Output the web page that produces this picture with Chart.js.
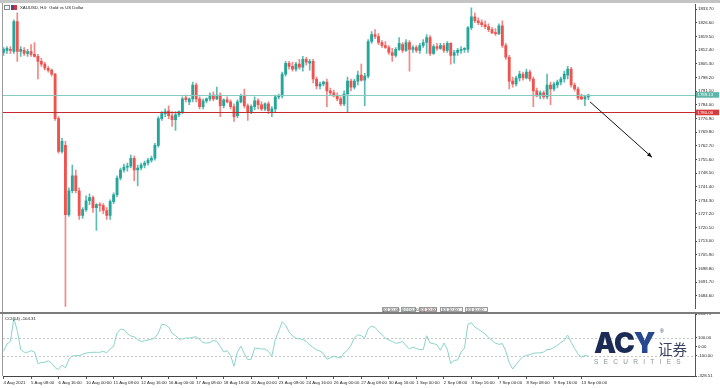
<!DOCTYPE html>
<html><head><meta charset="utf-8">
<script src="https://cdn.jsdelivr.net/npm/chart.js@4.4.0/dist/chart.umd.min.js"></script>
<style>
html,body{margin:0;padding:0;background:#fff;width:720px;height:388px;overflow:hidden;}
#wrap{position:relative;width:720px;height:388px;background:#fff;}
canvas{position:absolute;left:0;}
#main{top:0;}
#cci{top:306px;}
.bar{position:absolute;}
.txt{position:absolute;font-family:'Liberation Sans',Arial,sans-serif;font-size:8.6px;line-height:10px;transform:scale(0.5);transform-origin:0 0;white-space:nowrap;color:#222;}
.btn{position:absolute;top:306.5px;height:5.5px;border:1px solid #9c9c9c;box-sizing:border-box;background:#efefef;}
</style></head>
<body><div id="wrap">
<canvas id="main" width="720" height="312"></canvas>
<canvas id="cci" width="720" height="82"></canvas>
<div class="bar" style="left:0;top:0;width:720px;height:3px;background:#c4c4c4"></div>
<div class="bar" style="left:2px;top:3px;width:1px;height:373px;background:#9a9a9a"></div>
<div class="bar" style="left:0;top:312px;width:720px;height:2px;background:#7c7c7c"></div>
<div class="bar" style="left:4px;top:4.5px;width:6px;height:5px;border:1px solid #8a8a8a;box-sizing:border-box;background:#f4f4f4"></div>
<div class="bar" style="left:11px;top:4.5px;width:6px;height:5px;background:linear-gradient(90deg,#3a4fa0 0 45%,#d33 45% 100%)"></div>
<div class="txt" style="left:20px;top:5px">XAUUSD, H4:&nbsp; Gold vs US Dollar</div>
<div class="txt" style="left:4.5px;top:315.5px">CCI(14) -104.31</div>
<div class="btn" style="left:382px;width:17px"></div>
<div class="btn" style="left:401px;width:15px;background:#e4f1ee"></div>
<div class="btn" style="left:419px;width:18px;background:#f6e3e3"></div>
<div class="btn" style="left:440px;width:23px"></div>
<div class="btn" style="left:465px;width:23px"></div>
<div class="txt" style="left:383px;top:307px;color:#555">[0] 10.00</div>
<div class="txt" style="left:402px;top:307px;color:#555">0 [·] 0.00</div>
<div class="txt" style="left:420px;top:307px;color:#555">[0] 10.00</div>
<div class="txt" style="left:442px;top:307px;color:#555">[0] 10.00</div>
<div class="txt" style="left:467px;top:307px;color:#555">[0] 10.00</div>
<div style="position:absolute;left:594px;top:333px;height:20px;line-height:20px;font-family:Inter,'DejaVu Sans',sans-serif;font-weight:900;font-size:28px;color:#1c2a56;letter-spacing:-1px;white-space:nowrap">AC<span style="color:#27478f">Y</span></div>
<div style="position:absolute;left:660px;top:329px;font-family:'Liberation Sans',Arial,sans-serif;font-size:5px;line-height:5px;color:#1c2a56">®</div>
<div style="position:absolute;left:658px;top:341px;height:15px;line-height:15px;font-family:'Noto Sans CJK SC',sans-serif;font-size:14.5px;color:#3b4262;white-space:nowrap">证券</div>
<div style="position:absolute;left:594px;top:358px;height:7px;line-height:7px;font-family:'Liberation Sans',Arial,sans-serif;font-size:6.5px;letter-spacing:5.3px;color:#8c929c;white-space:nowrap">SECURITIES</div>
</div>
<script>
const barOpen = [1811.2,1812.3,1812.8,1811.7,1827.2,1811.7,1812.3,1810.7,1811.7,1810.2,
1809.2,1806.6,1805.1,1803.0,1802.0,1799.9,1776.8,1759.8,1762.9,1726.9,
1739.3,1747.0,1739.3,1726.4,1729.5,1734.1,1735.7,1730.5,1732.1,1731.6,
1729.0,1726.4,1733.6,1737.2,1745.9,1750.1,1751.6,1752.1,1756.2,1750.1,
1751.1,1752.6,1753.7,1755.2,1756.2,1762.9,1776.8,1779.4,1780.9,1778.3,
1776.3,1778.8,1780.4,1787.6,1785.5,1787.1,1794.3,1787.1,1783.0,1786.0,
1787.1,1789.1,1787.1,1789.1,1783.5,1786.6,1785.5,1783.0,1778.3,1785.5,
1788.6,1783.5,1780.4,1783.0,1786.0,1784.0,1781.9,1784.5,1780.4,1781.9,
1788.1,1788.6,1799.9,1805.6,1804.0,1802.5,1805.1,1803.5,1807.6,1805.6,
1806.6,1797.4,1793.8,1794.8,1795.8,1791.2,1790.2,1788.6,1787.1,1784.5,
1789.6,1796.3,1793.2,1796.3,1799.4,1796.8,1798.9,1816.9,1820.5,1819.5,
1816.4,1814.8,1813.8,1811.2,1809.7,1812.8,1815.3,1812.3,1816.4,1812.8,
1813.8,1812.3,1814.8,1816.4,1818.9,1810.7,1814.3,1813.3,1814.8,1812.3,
1815.9,1809.7,1811.2,1812.3,1812.8,1812.8,1824.1,1829.7,1827.7,1826.7,
1825.6,1824.6,1823.1,1821.5,1821.0,1825.1,1814.8,1808.7,1796.3,1794.8,
1797.9,1799.9,1797.9,1801.0,1797.4,1791.2,1788.6,1790.2,1788.1,1794.3,
1792.2,1794.3,1795.8,1797.4,1799.4,1802.5,1794.3,1792.2,1788.1,1787.1,
1788.1];
const barHigh = [1813.8,1814.3,1814.3,1828.2,1831.8,1814.3,1813.8,1812.8,1815.3,1816.4,
1810.2,1808.2,1806.1,1804.0,1802.5,1800.4,1777.8,1766.5,1765.0,1740.8,
1752.6,1750.1,1740.8,1730.5,1736.7,1737.7,1736.7,1732.6,1733.1,1732.6,
1730.5,1734.6,1738.2,1747.0,1751.1,1753.1,1753.7,1757.8,1757.3,1752.6,
1753.7,1754.7,1756.2,1757.3,1763.9,1777.8,1780.4,1781.9,1783.5,1780.4,
1780.4,1780.9,1788.1,1789.1,1787.6,1795.8,1795.3,1788.1,1787.1,1787.6,
1790.2,1790.7,1793.2,1790.2,1787.1,1788.1,1786.6,1784.5,1786.6,1789.6,
1792.2,1784.5,1784.0,1788.1,1787.1,1785.5,1785.0,1785.5,1783.0,1789.1,
1789.6,1801.0,1806.6,1806.6,1806.1,1806.1,1807.6,1809.2,1808.7,1807.6,
1807.6,1798.4,1795.8,1796.3,1797.4,1792.7,1791.7,1790.2,1788.1,1791.2,
1798.4,1797.4,1797.4,1801.5,1805.1,1800.4,1817.9,1822.0,1823.1,1821.0,
1817.4,1816.9,1814.8,1813.3,1813.8,1818.9,1816.4,1817.9,1817.4,1814.8,
1814.8,1815.9,1817.9,1820.5,1820.0,1815.3,1815.9,1815.9,1815.9,1816.9,
1816.4,1812.3,1813.3,1814.3,1813.8,1824.6,1834.4,1831.8,1829.2,1828.2,
1827.7,1826.1,1824.1,1823.6,1826.1,1827.7,1815.9,1809.7,1798.4,1798.9,
1801.5,1801.0,1802.5,1802.0,1798.4,1792.7,1791.2,1791.2,1799.9,1795.8,
1795.8,1796.8,1798.4,1801.5,1804.0,1803.5,1795.3,1793.2,1789.6,1789.1,
1789.6];
const barLow = [1809.7,1810.7,1810.7,1810.7,1806.6,1809.2,1809.7,1809.2,1809.2,1808.7,
1797.4,1804.0,1802.0,1801.0,1798.9,1775.8,1758.8,1758.8,1679.1,1725.9,
1738.2,1738.2,1724.4,1724.9,1728.5,1732.1,1728.0,1718.7,1728.5,1727.4,
1724.4,1724.4,1732.6,1736.2,1744.9,1749.0,1749.5,1751.1,1744.4,1741.8,
1750.1,1751.1,1752.6,1754.2,1755.2,1761.9,1775.8,1777.8,1776.8,1772.7,
1770.6,1777.8,1779.4,1785.5,1784.0,1785.5,1785.5,1781.9,1781.9,1785.0,
1786.0,1786.0,1786.6,1777.8,1782.4,1785.0,1781.9,1775.3,1777.3,1785.0,
1782.4,1775.8,1779.4,1781.4,1781.9,1780.9,1780.9,1779.4,1777.8,1780.4,
1787.1,1787.6,1798.9,1802.5,1801.5,1801.5,1802.5,1801.5,1804.6,1802.0,
1795.3,1792.2,1792.2,1793.8,1783.0,1789.1,1788.1,1786.0,1783.5,1783.5,
1780.4,1791.2,1792.2,1794.3,1796.3,1783.5,1797.9,1815.9,1818.4,1815.3,
1813.8,1813.3,1810.2,1806.6,1808.7,1812.3,1811.2,1811.7,1801.5,1811.2,
1811.2,1810.7,1813.8,1810.7,1809.7,1810.2,1812.3,1812.8,1811.2,1811.2,
1805.1,1805.6,1809.7,1810.7,1811.2,1811.2,1823.1,1826.7,1825.6,1824.6,
1823.6,1822.0,1821.0,1820.0,1820.5,1813.8,1807.6,1792.2,1793.2,1793.8,
1796.3,1796.8,1797.4,1796.3,1783.0,1788.1,1787.1,1787.1,1787.1,1784.0,
1791.2,1792.7,1794.3,1795.8,1797.4,1793.2,1791.2,1786.6,1786.6,1783.5,
1786.6];
const barClose = [1812.8,1813.3,1812.3,1827.2,1811.7,1812.8,1810.7,1811.7,1810.2,1809.2,
1806.6,1805.1,1803.0,1802.0,1799.9,1776.8,1759.8,1765.0,1726.9,1739.3,
1747.0,1739.3,1726.4,1729.5,1734.1,1735.7,1730.5,1732.1,1731.6,1729.0,
1726.4,1733.6,1737.2,1745.9,1750.1,1751.6,1752.1,1756.2,1750.1,1751.1,
1752.6,1753.7,1755.2,1756.2,1762.9,1776.8,1779.4,1780.4,1778.3,1776.3,
1778.8,1780.4,1787.1,1786.6,1787.1,1794.3,1787.1,1783.0,1786.0,1787.1,
1789.1,1787.1,1789.1,1783.5,1786.6,1785.5,1783.0,1777.8,1785.5,1788.6,
1783.5,1780.4,1783.0,1786.0,1784.0,1781.9,1784.5,1780.9,1781.9,1788.1,
1788.6,1799.9,1805.6,1804.0,1802.5,1805.1,1803.5,1807.6,1806.1,1806.6,
1797.4,1793.8,1794.8,1795.8,1791.2,1790.2,1788.6,1787.1,1784.5,1789.6,
1796.3,1793.2,1796.3,1799.4,1796.8,1798.9,1816.9,1820.5,1819.5,1816.4,
1814.8,1813.8,1811.2,1809.7,1812.8,1815.9,1812.3,1816.4,1812.8,1813.8,
1812.3,1814.8,1816.4,1818.9,1810.7,1814.3,1813.3,1814.8,1812.3,1815.9,
1809.7,1811.2,1812.3,1812.8,1813.3,1824.1,1829.7,1827.7,1826.7,1825.6,
1824.6,1823.1,1821.5,1821.0,1825.1,1814.8,1808.7,1796.3,1794.8,1797.9,
1799.9,1797.9,1801.0,1797.4,1791.2,1788.6,1790.2,1788.1,1794.3,1792.2,
1794.8,1795.8,1797.4,1799.9,1802.5,1794.3,1792.2,1787.6,1787.1,1788.1,
1789.1];
const cciValues = [-52,30,59,318,180,-33,-63,-63,-45,-60,
-189,-178,-174,-160,-185,-235,-255,-205,-237,-140,
-105,-100,-100,-85,-72,-66,-63,-63,-63,-52,
-68,-26,3,155,196,190,145,120,110,80,
59,65,75,82,100,152,250,245,220,150,
125,85,85,97,95,105,110,80,45,41,
45,70,60,3,-60,-45,-100,-219,-60,5,
-80,-145,-140,-15,-20,-26,-26,-52,-107,80,
175,280,240,165,120,95,88,80,60,20,
-10,-35,-50,-78,-140,-125,-107,-118,-126,-70,
-40,15,100,133,122,97,200,230,215,170,
135,97,75,58,38,45,59,10,-26,-5,
-20,-33,-33,122,41,35,20,-41,41,-30,
-190,-155,-148,-60,-15,250,268,220,195,170,
140,105,70,40,25,35,-50,-180,-250,-200,
-150,-110,-100,-90,-75,-70,-70,-60,-33,-30,
-10,15,45,70,130,50,-20,-85,-115,-100,
-104.31];
const priceTicks = [1684.60,1691.70,1698.80,1705.90,1713.00,1720.10,1727.20,1734.30,1741.40,1748.50,1755.60,1762.70,1769.80,1776.90,1784.00,1791.10,1798.20,1805.30,1812.40,1819.50,1826.60,1833.70];
const cciTicks = [365.75,100,0,-100,-328.51];
const cciLevels = [100,-100];
const timeLabels = ["4 Aug 2021","5 Aug 08:00","6 Aug 16:00","10 Aug 00:00","11 Aug 08:00","12 Aug 16:00","16 Aug 00:00","17 Aug 08:00","18 Aug 16:00","20 Aug 00:00","23 Aug 08:00","24 Aug 16:00","26 Aug 00:00","27 Aug 08:00","30 Aug 16:00","1 Sep 00:00","2 Sep 08:00","3 Sep 16:00","7 Sep 00:00","8 Sep 08:00","9 Sep 16:00","13 Sep 00:00"];
const timeLabelBars = [0,8,16,24,32,40,48,56,64,72,80,88,96,104,112,120,128,136,144,152,160,168];
const levelValues = [1789.13,1780.00];
const arrowFrom = [170.5,1785.5];
const arrowTo = [188.5,1756.7];

const UP='#26a69a', DN='#ef5350', UPW='rgba(38,166,154,0.75)', DNW='rgba(239,83,80,0.7)';
const FONT="'Liberation Sans', Arial, sans-serif";
Chart.defaults.font.family=FONT;
Chart.defaults.font.size=4.3;
Chart.defaults.color='#222';
const X_MIN=-0.15, X_MAX=201.0;
const idx = barOpen.map((_,i)=>i);
const bull = idx.map(i=>barClose[i]>=barOpen[i]);

const levelStyle=[{line:'#86cbbf',box:'#5cb5a7',w:1},{line:'#c42a2e',box:'#d8393b',w:1.2}];
const levelsPlugin={id:'levels',
  afterDatasetsDraw(chart){
    const {ctx,chartArea:a,scales:{x,y}}=chart;
    levelValues.forEach((v,k)=>{
      const py=Math.round(y.getPixelForValue(v))+0.5;
      ctx.save();ctx.strokeStyle=levelStyle[k].line;ctx.lineWidth=levelStyle[k].w;
      ctx.beginPath();ctx.moveTo(a.left,py);ctx.lineTo(a.right,py);ctx.stroke();ctx.restore();
    });
    const x1=x.getPixelForValue(arrowFrom[0]),y1=y.getPixelForValue(arrowFrom[1]);
    const x2=x.getPixelForValue(arrowTo[0]),y2=y.getPixelForValue(arrowTo[1]);
    ctx.save();ctx.strokeStyle='#111';ctx.fillStyle='#111';ctx.lineWidth=1;
    ctx.beginPath();ctx.moveTo(x1,y1);ctx.lineTo(x2,y2);ctx.stroke();
    const ang=Math.atan2(y2-y1,x2-x1),L=5,W=2;
    ctx.beginPath();ctx.moveTo(x2,y2);
    ctx.lineTo(x2-L*Math.cos(ang)+W*Math.sin(ang),y2-L*Math.sin(ang)-W*Math.cos(ang));
    ctx.lineTo(x2-L*Math.cos(ang)-W*Math.sin(ang),y2-L*Math.sin(ang)+W*Math.cos(ang));
    ctx.closePath();ctx.fill();ctx.restore();
  },
  afterDraw(chart){
    const {ctx,chartArea:a,scales:{y}}=chart;
    levelValues.forEach((v,k)=>{
      const py=y.getPixelForValue(v);
      ctx.save();ctx.fillStyle=levelStyle[k].box;
      ctx.fillRect(a.right+1,py-2.8,23,5.6);
      ctx.fillStyle='#fff';ctx.font='4.3px '+FONT;ctx.textBaseline='middle';ctx.textAlign='left';
      ctx.fillText(v.toFixed(2),a.right+2.5,py+0.2);ctx.restore();
    });
  }};

new Chart(document.getElementById('main'),{
  type:'bar',
  data:{datasets:[
    {label:'wick',data:idx.map(i=>({x:i,y:[barLow[i],barHigh[i]]})),backgroundColor:bull.map(b=>b?UPW:DNW),barThickness:1,grouped:false,order:2,borderWidth:0},
    {label:'body',data:idx.map(i=>({x:i,y:[barOpen[i],barClose[i]]})),backgroundColor:bull.map(b=>b?UP:DN),barThickness:2.2,minBarLength:1,grouped:false,order:1,borderWidth:0}
  ]},
  options:{responsive:false,animation:false,devicePixelRatio:1,
    layout:{padding:{left:3,top:4,right:0,bottom:0}},
    plugins:{legend:{display:false},tooltip:{enabled:false}},
    scales:{
      x:{type:'linear',min:X_MIN,max:X_MAX,offset:false,display:false,grid:{offset:false}},
      y:{type:'linear',position:'right',min:1678.1,max:1836.4,
        afterBuildTicks(s){s.ticks=priceTicks.map(v=>({value:v}));},
        afterFit(s){s.width=25;},
        ticks:{autoSkip:false,padding:1,color:'#222',font:{size:4.3},callback:v=>Number(v).toFixed(2)},
        grid:{drawOnChartArea:false,tickLength:2,color:'#444'},
        border:{display:true,color:'#555',width:1}}
    }},
  plugins:[levelsPlugin]
});

const cciPlugin={id:'cciLevels',
  beforeDatasetsDraw(chart){
    const {ctx,chartArea:a,scales:{y}}=chart;
    ctx.save();ctx.strokeStyle='#b8b8b8';ctx.lineWidth=0.8;ctx.setLineDash([2,2]);
    cciLevels.forEach(v=>{const py=Math.round(y.getPixelForValue(v))+0.5;ctx.beginPath();ctx.moveTo(a.left,py);ctx.lineTo(a.right,py);ctx.stroke();});
    ctx.restore();
  }};

new Chart(document.getElementById('cci'),{
  type:'line',
  data:{datasets:[{label:'CCI(14)',data:idx.map(i=>({x:i,y:cciValues[i]})),borderColor:'#8ad4c7',borderWidth:1,pointRadius:0,tension:0,fill:false}]},
  options:{responsive:false,animation:false,devicePixelRatio:1,
    layout:{padding:{left:3,top:8,right:0,bottom:0}},
    plugins:{legend:{display:false},tooltip:{enabled:false}},
    scales:{
      x:{type:'linear',min:X_MIN,max:X_MAX,
        afterBuildTicks(s){s.ticks=timeLabelBars.map(v=>({value:v}));},
        afterFit(s){s.height=12;},
        ticks:{autoSkip:false,maxRotation:0,minRotation:0,align:'start',padding:1,color:'#222',font:{size:4.3},
          callback:v=>{const k=timeLabelBars.indexOf(v);return k>=0?timeLabels[k]:'';}},
        grid:{drawOnChartArea:false,tickLength:3,color:'#555'},
        border:{display:true,color:'#444',width:1}},
      y:{type:'linear',position:'right',min:-328.51,max:365.75,
        afterBuildTicks(s){s.ticks=cciTicks.map(v=>({value:v}));},
        afterFit(s){s.width=25;},
        ticks:{autoSkip:false,padding:1,color:'#222',font:{size:4.3},callback:v=>Number(v).toFixed(2)},
        grid:{drawOnChartArea:false,tickLength:2,color:'#444'},
        border:{display:true,color:'#555',width:1}}
    }},
  plugins:[cciPlugin]
});
</script>
</body></html>
